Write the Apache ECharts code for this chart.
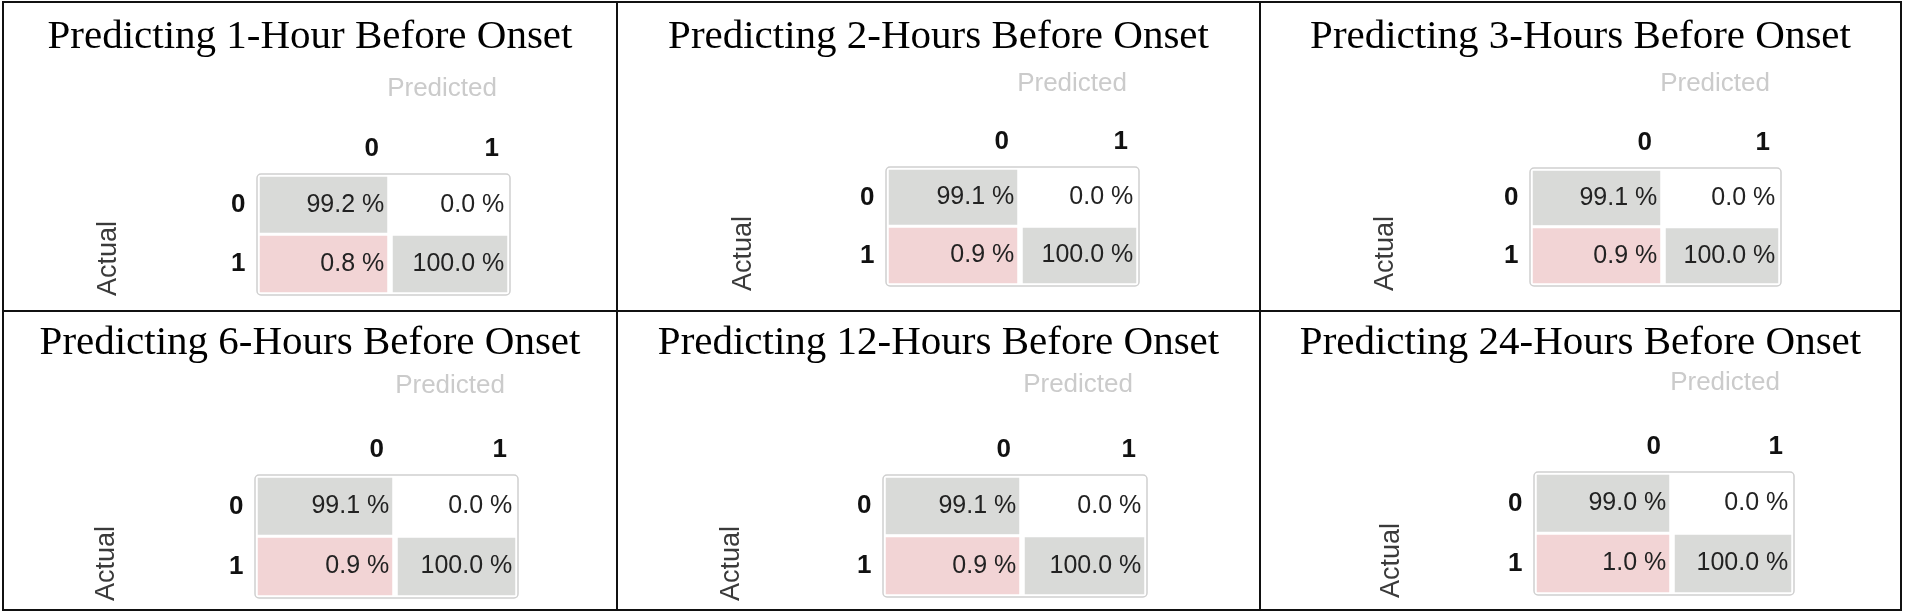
<!DOCTYPE html>
<html>
<head>
<meta charset="utf-8">
<title>Confusion matrices by lead time</title>
<script src="https://cdn.jsdelivr.net/npm/echarts@6/dist/echarts.min.js"></script>
<style>
    html, body { margin: 0; padding: 0; background: #fff; }
    #main { width: 1906px; height: 615px; }
</style>
</head>
<body>
<div id="main"></div>
<script>
    // lead time of each panel
    var leadTimes = ['1-Hour', '2-Hours', '3-Hours', '6-Hours', '12-Hours', '24-Hours'];
    var predictedLabels = ['0', '1'];
    var actualLabels = ['0', '1'];

    // cell values (%), one entry per panel
    var actual0pred0 = [99.2, 99.1, 99.1, 99.1, 99.1, 99.0];
    var actual0pred1 = [0.0, 0.0, 0.0, 0.0, 0.0, 0.0];
    var actual1pred0 = [0.8, 0.9, 0.9, 0.9, 0.9, 1.0];
    var actual1pred1 = [100.0, 100.0, 100.0, 100.0, 100.0, 100.0];

    // layout of each panel: title centre, matrix frame [l, t, r, b], column split,
    // "Predicted" anchor (right / middle) and "Actual" anchor (bottom / centre)
    var panels = [
        { cx: 310, ty: 17, box: [257, 174, 510, 295], split: 390, pred: [497, 89], act: [109, 296] },
        { cx: 938.5, ty: 17, box: [886, 167, 1139, 286], split: 1020, pred: [1127, 84], act: [744, 291] },
        { cx: 1580.5, ty: 17, box: [1530, 168, 1781, 286], split: 1663, pred: [1770, 84], act: [1386, 291] },
        { cx: 310, ty: 323, box: [255, 475, 518, 598], split: 395, pred: [505, 386], act: [107, 601] },
        { cx: 938.5, ty: 323, box: [883, 475, 1147, 597], split: 1022, pred: [1133, 385], act: [732, 601] },
        { cx: 1580.5, ty: 323, box: [1534, 472, 1794, 595], split: 1672, pred: [1780, 383], act: [1392, 598] }
    ];

    var sans = 'Liberation Sans, Arial, sans-serif';
    var serif = 'Liberation Serif, Times New Roman, serif';

    function cellColor(row, col, v) {
        if (row === col) return '#d9dad8';
        return v > 0 ? '#f2d4d5' : '#ffffff';
    };

    var titles = [], grids = [], xAxes = [], yAxes = [], series = [];
    var graphics = [
        { type: 'rect', z: 100, shape: { x: 3, y: 2, width: 1898, height: 608 }, style: { fill: null, stroke: '#111', lineWidth: 2 } },
        { type: 'line', z: 100, shape: { x1: 617, y1: 2, x2: 617, y2: 610 }, style: { stroke: '#111', lineWidth: 2 } },
        { type: 'line', z: 100, shape: { x1: 1260, y1: 2, x2: 1260, y2: 610 }, style: { stroke: '#111', lineWidth: 2 } },
        { type: 'line', z: 100, shape: { x1: 3, y1: 311, x2: 1901, y2: 311 }, style: { stroke: '#111', lineWidth: 2 } }
    ];

    for (var i = 0; i < panels.length; i++) {
        var p = panels[i];
        var L = p.box[0], T = p.box[1], R = p.box[2], B = p.box[3];
        var values = [[actual0pred0[i], actual0pred1[i]], [actual1pred0[i], actual1pred1[i]]];
        var cols = [[L + 1.5, p.split - 1.5], [p.split + 1.5, R - 1.5]];

        titles.push({
            text: 'Predicting ' + leadTimes[i] + ' Before Onset',
            left: p.cx, top: p.ty, textAlign: 'center', padding: 0,
            textStyle: { fontFamily: serif, fontSize: 41, fontWeight: 'normal', color: '#000' }
        });

        for (var j = 0; j < cols.length; j++) {
            var idx = grids.length;
            var w = cols[j][1] - cols[j][0];
            grids.push({ left: cols[j][0], top: T + 1.5, width: w, height: B - T - 3 });
            xAxes.push({
                type: 'category', gridIndex: idx, position: 'top', data: [predictedLabels[j]],
                axisLine: { show: false }, axisTick: { show: false }, splitLine: { show: false },
                axisLabel: {
                    margin: 14,
                    formatter: '{h|{value}}',
                    rich: { h: { width: w - 19, align: 'right', fontFamily: sans, fontSize: 26, fontWeight: 'bold', color: '#111' } }
                }
            });
            yAxes.push({
                type: 'category', gridIndex: idx, inverse: true, data: actualLabels,
                axisLine: { show: false }, axisTick: { show: false }, splitLine: { show: false },
                axisLabel: { show: j === 0, margin: 13, fontFamily: sans, fontSize: 26, fontWeight: 'bold', color: '#111' }
            });
            var cells = [];
            for (var r = 0; r < actualLabels.length; r++) {
                cells.push({
                    value: [0, r, values[r][j]],
                    itemStyle: { color: cellColor(r, j, values[r][j]) }
                });
            };
            series.push({
                type: 'heatmap', xAxisIndex: idx, yAxisIndex: idx, data: cells,
                itemStyle: { borderColor: '#fff', borderWidth: 3 },
                emphasis: { disabled: true },
                label: {
                    show: true, position: 'insideRight', distance: 6,
                    fontFamily: sans, fontSize: 25, color: '#222',
                    formatter: function (params) {
                        return params.value[2].toFixed(1) + ' %';
                    }
                }
            });
        };

        // rounded frame round the matrix
        graphics.push({
            type: 'rect', z: 100,
            shape: { x: L, y: T, width: R - L, height: B - T, r: 4 },
            style: { fill: null, stroke: '#cfcfcf', lineWidth: 1.5 }
        });
        graphics.push({
            type: 'text', z: 100, x: p.pred[0], y: p.pred[1],
            style: { text: 'Predicted', align: 'right', verticalAlign: 'middle', fontFamily: sans, fontSize: 26, fill: '#cbcbcb' }
        });
        graphics.push({
            type: 'text', z: 100, x: p.act[0], y: p.act[1], rotation: Math.PI / 2,
            style: { text: 'Actual', align: 'left', verticalAlign: 'middle', fontFamily: sans, fontSize: 27, fill: '#3a3a3a' }
        });
    };

    var myChart = echarts.init(document.getElementById('main'));
    myChart.setOption({
        animation: false,
        backgroundColor: '#fff',
        title: titles,
        grid: grids,
        xAxis: xAxes,
        yAxis: yAxes,
        series: series,
        graphic: graphics
    });
</script>
</body>
</html>
